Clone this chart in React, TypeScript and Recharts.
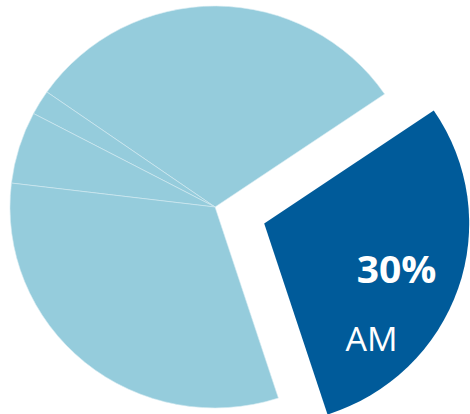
import { Cell, Pie, PieChart } from 'recharts';

const names = ['AM', 'Midday', 'Afternoon', 'Evening', 'PM'];
const values = [29.5, 30.8, 2.0, 5.8, 31.9];
const colors = ['#005B9A', '#95CCDC', '#95CCDC', '#95CCDC', '#95CCDC'];
const highlighted = 'AM';

const data = names.map((name, i) => ({ name, value: values[i] }));

const total = values.reduce((a, b) => a + b, 0);
const startAngle = -72;
const endAngle = startAngle + 360;
const cx = 215;
const cy = 207;
const radius = 205;
const explode = 52;

// bisector of the highlighted slice, used to push it out of the pie
const hiIndex = names.indexOf(highlighted);
const before = values.slice(0, hiIndex).reduce((a, b) => a + b, 0);
const midAngle =
  startAngle + ((before + values[hiIndex] / 2) / total) * 360;
const rad = (midAngle * Math.PI) / 180;
const cx2 = cx + explode * Math.cos(rad);
const cy2 = cy - explode * Math.sin(rad);

const renderLabel = (props: any) => {
  if (props.name !== highlighted) return null;
  const a = (-props.midAngle * Math.PI) / 180;
  const x = props.cx + 140 * Math.cos(a);
  const y = props.cy + 140 * Math.sin(a);
  return (
    <g fontFamily="'Open Sans', sans-serif" fill="#ffffff">
      <text x={x} y={y + 15} textAnchor="middle" fontSize={39} fontWeight={700}>
        {`${Math.round(props.percent * 100)}%`}
      </text>
      <text x={x - 25} y={y + 85} textAnchor="middle" fontSize={34} fontWeight={400}>
        {props.name}
      </text>
    </g>
  );
};

export default function App() {
  return (
    <div
      style={{
        position: 'absolute',
        left: 0,
        top: 0,
        width: 470,
        height: 414,
        overflow: 'hidden',
        background: '#fff',
      }}
    >
      <div style={{ transform: 'scaleY(0.98)', transformOrigin: '0 207px' }}>
        <PieChart width={470} height={430} margin={{ top: 0, right: 0, bottom: 0, left: 0 }}>
          <Pie
            data={data}
            dataKey="value"
            nameKey="name"
            cx={cx}
            cy={cy}
            outerRadius={radius}
            startAngle={startAngle}
            endAngle={endAngle}
            isAnimationActive={false}
            labelLine={false}
          >
            {data.map((d, i) => (
              <Cell
                key={d.name}
                fill={d.name === highlighted ? 'none' : colors[i]}
                stroke={d.name === highlighted ? 'none' : '#d4ebf1'}
                strokeWidth={0.6}
              />
            ))}
          </Pie>
          <Pie
            data={data}
            dataKey="value"
            nameKey="name"
            cx={cx2}
            cy={cy2}
            outerRadius={radius}
            startAngle={startAngle}
            endAngle={endAngle}
            isAnimationActive={false}
            labelLine={false}
            label={renderLabel}
          >
            {data.map((d, i) => (
              <Cell
                key={d.name}
                fill={d.name === highlighted ? colors[i] : 'none'}
                stroke="none"
              />
            ))}
          </Pie>
        </PieChart>
      </div>
    </div>
  );
}
